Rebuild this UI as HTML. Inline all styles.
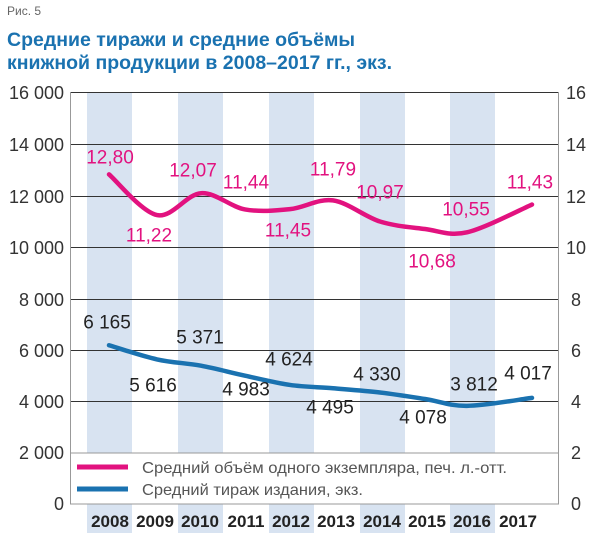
<!DOCTYPE html>
<html><head><meta charset="utf-8"><style>
html,body{margin:0;padding:0;background:#fff}
body{width:600px;height:533px;overflow:hidden;position:relative;font-family:"Liberation Sans",sans-serif}
</style></head><body>
<svg width="600" height="533" viewBox="0 0 600 533" xmlns="http://www.w3.org/2000/svg" font-family="Liberation Sans, sans-serif">
<text x="7" y="15" font-size="12" fill="#666">Рис. 5</text>
<text x="7" y="46" font-size="19.5" font-weight="bold" fill="#1a72b0">Средние тиражи и средние объёмы</text>
<text x="7" y="69" font-size="19.5" font-weight="bold" fill="#1a72b0">книжной продукции в 2008–2017 гг., экз.</text>
<g fill="#d8e3f1">
<rect x="87" y="92" width="45" height="441"/>
<rect x="178" y="92" width="45" height="441"/>
<rect x="269" y="92" width="45" height="441"/>
<rect x="360" y="92" width="45" height="441"/>
<rect x="450" y="92" width="45" height="441"/>
</g>
<g stroke="#333" stroke-width="1">
<line x1="70" y1="92.5" x2="558" y2="92.5"/>
<line x1="70" y1="144.5" x2="558" y2="144.5"/>
<line x1="70" y1="196.5" x2="558" y2="196.5"/>
<line x1="70" y1="247.5" x2="558" y2="247.5"/>
<line x1="70" y1="299.5" x2="558" y2="299.5"/>
<line x1="70" y1="350.5" x2="558" y2="350.5"/>
<line x1="70" y1="401.5" x2="558" y2="401.5"/>
</g>
<rect x="70.5" y="453" width="488" height="51" fill="#fff" stroke="#999"/>
<line x1="70.5" y1="92" x2="70.5" y2="504" stroke="#999"/>
<line x1="558.5" y1="92" x2="558.5" y2="504" stroke="#999"/>
<g font-size="18" fill="#333" text-anchor="end">
<text x="64" y="99">16 000</text><text x="64" y="151">14 000</text><text x="64" y="203">12 000</text><text x="64" y="254">10 000</text>
<text x="64" y="306">8 000</text><text x="64" y="357">6 000</text><text x="64" y="408">4 000</text><text x="64" y="459">2 000</text><text x="64" y="510">0</text>
</g>
<g font-size="18" fill="#333">
<text x="566" y="99">16</text><text x="566" y="151">14</text><text x="566" y="203">12</text><text x="566" y="254">10</text>
<text x="571" y="306">8</text><text x="571" y="357">6</text><text x="571" y="408">4</text><text x="571" y="459">2</text><text x="571" y="510">0</text>
</g>
<path id="pk" fill="none" stroke="#e2127f" stroke-width="4.5" stroke-linecap="round"/>
<path id="bl" fill="none" stroke="#1a72b0" stroke-width="4.5" stroke-linecap="round"/>
<g font-size="19" fill="#e2127f" text-anchor="middle" dominant-baseline="central">
<text x="110" y="158">12,80</text><text x="149" y="236">11,22</text><text x="193" y="171">12,07</text><text x="246" y="183">11,44</text>
<text x="288" y="231">11,45</text><text x="333" y="170">11,79</text><text x="380" y="193">10,97</text><text x="432" y="262">10,68</text>
<text x="466" y="210">10,55</text><text x="530" y="183">11,43</text>
</g>
<g font-size="19" fill="#222" text-anchor="middle" dominant-baseline="central">
<text x="107" y="323">6 165</text><text x="153" y="386">5 616</text><text x="200" y="338">5 371</text><text x="246" y="390">4 983</text>
<text x="289" y="360">4 624</text><text x="330" y="408">4 495</text><text x="377" y="375">4 330</text><text x="423" y="418">4 078</text>
<text x="474" y="385">3 812</text><text x="528" y="374">4 017</text>
</g>
<line x1="77" y1="467" x2="128" y2="467" stroke="#e2127f" stroke-width="5"/>
<line x1="77" y1="489" x2="128" y2="489" stroke="#1a72b0" stroke-width="5"/>
<g font-size="16" fill="#555">
<text x="142" y="473" textLength="365" lengthAdjust="spacingAndGlyphs">Средний объём одного экземпляра, печ. л.-отт.</text>
<text x="142" y="495" textLength="221" lengthAdjust="spacingAndGlyphs">Средний тираж издания, экз.</text>
</g>
<g font-size="17" font-weight="bold" fill="#222" text-anchor="middle" font-family="Liberation Sans Narrow, Liberation Sans, sans-serif">
<text x="110" y="527">2008</text><text x="155" y="527">2009</text><text x="200" y="527">2010</text><text x="246" y="527">2011</text><text x="291" y="527">2012</text>
<text x="336" y="527">2013</text><text x="382" y="527">2014</text><text x="427" y="527">2015</text><text x="472" y="527">2016</text><text x="518" y="527">2017</text>
</g>
</svg>
<script>
function cr(p){var d="M"+p[0][0]+","+p[0][1];for(var i=0;i<p.length-1;i++){var a=p[i-1]||p[i],b=p[i],c=p[i+1],e=p[i+2]||c;
d+=" C"+(b[0]+(c[0]-a[0])/6)+","+(b[1]+(c[1]-a[1])/6)+" "+(c[0]-(e[0]-b[0])/6)+","+(c[1]-(e[1]-b[1])/6)+" "+c[0]+","+c[1];}return d;}
var xs=[109,157,201,245,290,333,380,425,467,532];
var pv=[12.80,11.22,12.07,11.44,11.45,11.79,10.97,10.68,10.55,11.63];
var bv=[6.165,5.616,5.371,4.983,4.624,4.495,4.330,4.078,3.812,4.12];
function y(v){return 504-v*25.75;}
document.getElementById("pk").setAttribute("d",cr(xs.map(function(x,i){return[x,y(pv[i])]})));
document.getElementById("bl").setAttribute("d",cr(xs.map(function(x,i){return[x,y(bv[i])]})));
</script>
</body></html>
